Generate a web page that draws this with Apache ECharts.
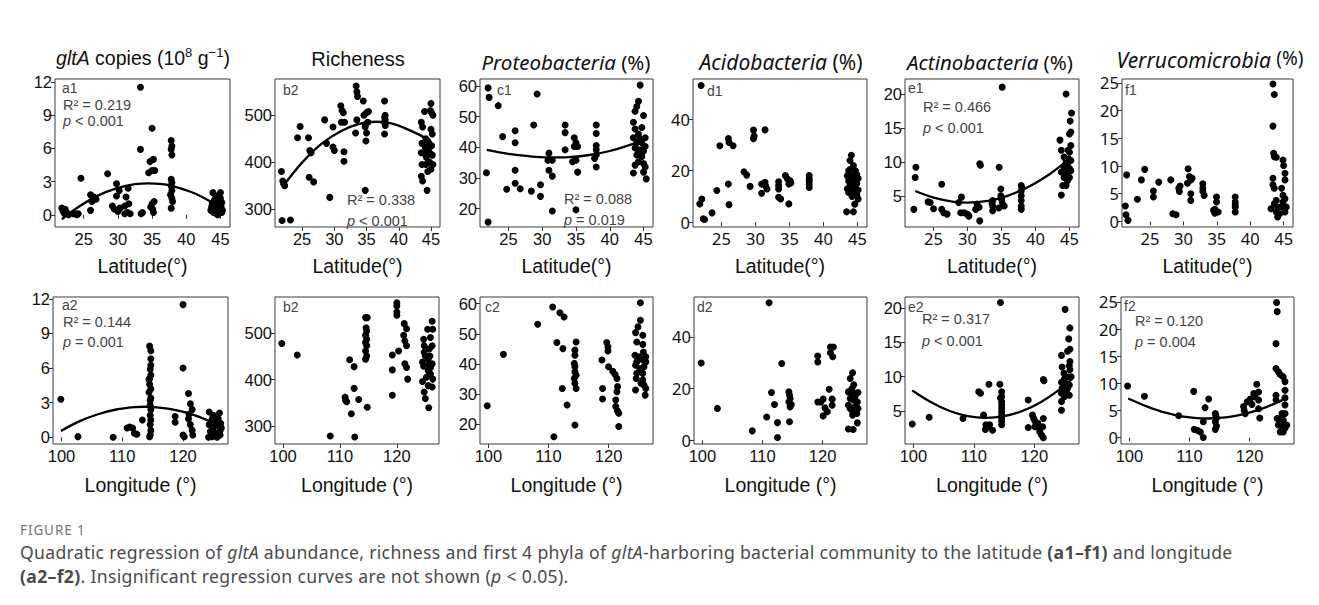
<!DOCTYPE html>
<html><head><meta charset="utf-8">
<script src="https://cdn.jsdelivr.net/npm/echarts@6/dist/echarts.min.js"></script>
<style>
html,body{margin:0;padding:0;background:#fff;}
#chart{position:absolute;left:0;top:0;width:1319px;height:605px;}
#fig{position:absolute;left:20px;top:521px;font-family:"Noto Sans";font-size:13.5px;line-height:18px;letter-spacing:0.9px;color:#777;}
#txt{position:absolute;left:20px;top:540px;width:1295px;font-family:"Noto Sans";font-size:17.6px;line-height:24px;letter-spacing:0.33px;color:#4a4a4a;white-space:nowrap;}
</style></head><body>
<div id="chart"></div>
<div id="fig">FIGURE 1</div>
<div id="txt">Quadratic regression of <i>gltA</i> abundance, richness and first 4 phyla of <i>gltA</i>-harboring bacterial community to the latitude <b>(a1–f1)</b> and longitude<br><b>(a2–f2)</b>. Insignificant regression curves are not shown (<i>p</i> &lt; 0.05).</div>
<script>
// ---------- tick labels ----------
const latTicks = [25, 30, 35, 40, 45];
const lonTicks = [100, 110, 120];
const gltaTicks = [0, 3, 6, 9, 12];
const richTicks = [300, 400, 500];
const proteoTicks = [20, 30, 40, 50, 60];
const acidoTicks = [0, 20, 40];
const actinoTicks = [5, 10, 15, 20];
const verruTicks = [0, 5, 10, 15, 20, 25];

// ---------- latitude panels (row 1) ----------
const a1Points = [[21.8,0.6],[22.0,0.3],[22.2,0.1],[22.3,0.5],[22.5,0.2],[22.8,0.0],[23.5,0.1],[23.8,0.1],[24.0,0.0],[24.2,0.1],
[24.6,3.3],[26.0,0.4],[26.2,1.2],[26.0,1.8],[26.5,1.6],[26.8,1.4],[28.5,3.7],
[29.2,0.8],[29.5,0.5],[29.8,2.8],[29.8,1.7],[30.0,0.3],[30.3,0.6],[30.2,2.2],
[31.0,0.8],[31.2,1.6],[31.0,0.1],[31.5,2.4],[31.4,0.2],[31.6,1.0],[31.8,0.1],
[33.3,11.5],[33.3,5.9],[33.4,0.1],[33.6,0.2],
[34.5,3.8],[34.7,4.8],[35.0,7.8],[35.0,4.0],[35.2,5.0],[35.4,4.0],[35.0,1.0],[35.1,0.5],[35.2,0.2],[34.8,0.7],[35.3,1.2],
[37.8,6.7],[37.9,6.2],[37.8,5.9],[37.9,5.4],[37.8,3.2],[37.9,2.9],[37.8,2.6],[37.9,2.2],[37.7,1.8],[37.9,1.5],[37.8,0.6],[38.0,1.2],
[43.6,0.4],[43.8,1.0],[43.9,2.0],[44.0,0.2],[44.2,0.6],[44.3,1.5],[44.4,0.1],[44.5,0.9],[44.6,1.2],[44.7,0.3],[44.8,1.8],[44.9,0.5],
[45.0,2.0],[45.1,0.7],[45.2,1.1],[45.3,0.4],[44.1,1.3],[44.6,0.0],[45.0,1.5],[43.7,0.7],[44.4,0.8],[45.2,0.2]];
const a1Curve = [[21.8,-0.4],[24,0.62],[27,1.71],[30,2.43],[32.5,2.76],[34.5,2.84],[36.5,2.76],[38,2.59],[41,1.99],[43.6,1.18],[45.3,0.5]];

const b1Points = [[21.8,380],[22.0,360],[22.1,355],[22.3,350],[21.9,276],[23.2,277],
[24.3,452],[24.7,476],[26.0,452],[26.2,425],[26.4,420],[26.1,368],[26.8,358],
[28.5,490],[28.8,440],[29.3,325],[29.8,475],[29.8,432],[30.0,425],
[31.0,520],[31.2,510],[31.4,505],[31.1,485],[31.6,485],[31.5,422],[31.5,402],
[33.4,562],[33.5,550],[33.6,540],[33.3,462],[33.5,490],
[34.5,530],[34.6,500],[35.0,505],[35.3,508],[34.8,480],[34.8,475],[35.2,485],[35.0,462],[34.9,445],[34.8,340],
[37.8,530],[37.9,500],[37.8,495],[37.9,490],[37.8,485],[37.9,478],[37.8,460],
[43.5,485],[43.7,475],[43.6,440],[43.5,420],[43.6,395],[43.5,370],[43.7,360],[44.0,508],[44.2,450],[44.1,432],[44.3,410],[44.2,395],
[44.4,340],[44.5,380],[44.6,425],[44.7,440],[44.8,400],[44.9,510],[45.0,525],[45.1,505],[45.0,470],[45.2,460],[45.1,435],[45.2,415],
[45.3,395],[45.0,385],[44.8,420],[44.5,445],[45.3,500],[44.3,430],[44.0,418]];
const b1Curve = [[22,348],[25,399],[28,439],[31,466],[34,482],[36.5,486],[39,482],[42,466],[44,452],[45.3,435]];

const c1Points = [[22.0,59.4],[22.15,56.3],[23.5,53.6],[21.75,31.7],[22.0,15.6],
[24.15,43.5],[26.0,45.4],[26.0,41.5],[26.0,32.5],[24.75,26.3],[26.0,28.3],[26.75,26.5],
[28.75,47.3],[28.4,25.7],[29.25,57.4],[29.75,27.8],[29.75,24.0],
[31.0,38.1],[30.85,35.8],[31.5,35.8],[31.0,32.5],[31.5,30.6],[31.5,19.2],
[33.4,47.3],[33.4,44.8],[33.4,39.2],[34.75,43.1],[35.0,41.5],[35.25,40.3],[34.75,40.3],[34.5,35.3],[35.0,35.8],[35.25,31.9],[35.0,19.6],
[38.0,47.3],[38.0,44.5],[38.0,40.6],[38.0,39.2],[38.0,37.5],[38.0,33.6],[37.75,36.4],
[44.5,60.3],[44.25,55],[44.0,53.3],[43.75,51.8],[45.0,50.4],[43.5,48.2],[43.75,46],[44.75,46.5],[43.5,43.1],[44.25,44.3],[45.25,43.1],
[44.0,41.5],[44.75,41.5],[43.75,39.8],[44.5,39.2],[45.0,38.7],[44.0,37.5],[44.25,35.3],[44.75,37.0],[43.75,34.2],[45.0,34.7],[45.25,33.6],
[45.4,29.7],[45.0,31.9],[43.5,31.6],[44.5,42.7],[44.25,38.7],[45.25,40.3]];
const c1Curve = [[21.8,39.2],[25,37.9],[28,37.1],[31,36.7],[34,36.8],[37,37.5],[40,38.8],[43,40.8],[45.3,42.7]];

const d1Points = [[22.0,53.2],[21.8,7.1],[22.1,9.0],[22.3,1.3],[22.5,1.0],[23.6,3.6],[24.3,12.3],[24.75,29.7],
[26.0,32.5],[26.1,31.0],[26.0,14.8],[26.1,6.8],[26.7,29.7],
[28.3,19.6],[28.7,18.3],[29.2,13.9],[29.7,35.8],[29.7,32.5],[29.8,33.5],
[31.4,35.9],[30.9,14.8],[31.4,15.5],[31.7,12.9],[30.9,11.2],[31.5,14.0],
[33.4,15.7],[33.4,14.2],[33.4,12.9],[33.4,9.7],[33.7,9.0],
[34.4,18.1],[34.7,16.8],[34.9,14.8],[35.1,16.1],[34.9,7.1],[35.2,15.2],
[37.9,18.1],[37.9,16.8],[37.9,14.8],[37.9,13.5],[37.9,16.0],
[44.1,26],[43.9,24],[44.4,22],[43.7,20],[44.7,20],[43.5,18],[44.2,18],[44.9,18.5],[45.1,17],[43.7,16],[44.4,15.5],[43.9,14.5],
[44.9,15],[43.5,13],[44.4,13],[45.1,12.5],[43.7,11.5],[44.4,11],[44.9,10.5],[44.2,10],[45.1,9],[44.6,7],[43.4,4],[44.4,4],
[44.2,16.5],[44.6,17.5],[43.9,20.5],[43.7,12.5],[44.5,14],[44.0,17]];

const e1Points = [[22.1,3.0],[22.4,9.2],[22.3,7.7],
[24.2,4.1],[24.5,4.0],[25.0,3.1],[26.2,6.7],[26.2,3.0],[26.5,2.5],[27.0,2.3],
[29.1,4.8],[29.0,2.5],[29.5,2.5],[29.95,2.3],[30.2,2.0],[28.7,4.0],
[31.2,3.0],[31.4,3.8],[31.7,3.3],[31.8,1.3],[31.8,9.7],[31.9,9.5],
[33.7,4.3],[33.7,3.5],[33.7,2.8],[33.6,3.9],
[34.65,9.2],[34.9,6.0],[34.9,5.0],[35.1,4.0],[35.4,3.5],[34.6,3.2],[35.1,21.0],[35.0,4.5],
[37.9,6.5],[37.9,5.7],[37.9,5.0],[37.9,4.3],[37.9,3.5],[37.9,3.0],[38.0,6.2],
[44.5,20.0],[45.3,17.2],[45.1,16.0],[45.2,14.4],[45.0,14.1],[43.6,13.2],[45.2,12.4],[45.0,11.4],[43.8,11.7],[44.8,10.4],[44.5,10.2],
[44.7,9.6],[44.2,9.2],[45.0,9.0],[43.8,8.5],[44.7,8.2],[45.2,8.7],[44.2,7.7],[44.8,7.5],[44.5,6.5],[43.8,5.1],[44.2,10.7],[44.8,11.7],
[45.2,10.2],[44.5,9.0],[45.0,7.7],[44.7,7.2],[44.0,6.5],[44.3,8.0]];
const e1Curve = [[22.3,5.7],[25,4.72],[28,4.11],[30,4.0],[33,4.26],[36,5.03],[39,6.32],[42,8.13],[44.3,9.87],[45.3,10.72]];

const f1Points = [[21.3,2.8],[21.4,1.2],[21.7,0.2],[21.5,8.4],[23.1,4.0],[23.7,7.5],[24.2,9.4],[25.5,5.5],[25.5,4.4],[26.3,7.1],
[28.1,7.5],[28.4,1.4],[28.9,1.2],[29.3,6.0],[29.4,5.4],[29.5,6.4],
[30.7,9.5],[30.9,8.1],[31.1,7.5],[30.6,6.9],[31.1,5.0],[31.1,3.8],[31.3,7.8],
[32.9,6.8],[32.9,6.0],[32.9,5.4],[33.1,4.7],
[34.7,2.2],[34.7,1.5],[34.95,4.4],[34.95,3.5],[35.2,1.7],[34.5,2.0],
[37.75,4.4],[37.75,3.5],[37.75,2.6],[37.75,1.7],[37.75,3.0],
[43.4,24.8],[43.6,22.9],[43.4,17.2],[43.5,12.3],[43.6,11.7],[43.9,11.6],[44.9,11.1],[45.0,10.1],[45.2,8.7],[45.2,7.5],[43.4,7.8],
[43.4,6.6],[43.6,6.0],[44.7,6.0],[44.9,4.7],[43.9,3.8],[43.6,3.2],[44.1,2.6],[44.6,2.6],[43.9,1.7],[44.4,1.4],[45.2,1.7],[45.4,2.6],
[44.1,0.8],[43.1,2.3],[44.9,3.5],[45.2,4.1]];

// ---------- longitude panels (row 2) ----------
const a2Points = [[99.9,3.3],[102.7,0.06],[108.5,0.0],
[110.8,0.8],[111.2,0.9],[111.7,0.8],[112.0,0.35],[112.4,0.26],[113.3,1.5],
[114.5,7.9],[114.7,7.5],[114.7,6.8],[114.7,6.25],[114.6,5.9],[114.7,5.4],[114.5,5.1],[114.4,5.0],[114.7,4.2],[114.4,3.9],[114.7,3.4],
[114.6,2.8],[114.7,2.4],[114.6,1.9],[114.7,1.5],[114.6,1.1],[114.7,0.6],[114.6,0.2],[114.5,0.05],[114.5,4.6],[114.6,3.2],
[118.7,1.8],[118.7,1.3],[120.0,11.5],[120.0,6.0],[120.0,0.2],[120.2,0.05],
[120.9,3.8],[121.2,2.9],[121.5,2.4],[120.9,1.6],[121.2,1.1],[121.5,0.6],[121.6,0.2],[121.0,2.0],
[124.3,2.2],[126.0,2.1],[124.8,1.6],[125.6,1.5],[124.3,1.1],[125.1,0.9],[125.8,1.1],[126.1,0.6],[124.5,0.5],[125.3,0.35],
[124.8,0.06],[125.6,0.0],[126.1,0.2],[124.2,0.0],[125.8,1.6],[126.2,1.2],[125.0,1.9],[126.3,0.8]];
const a2Curve = [[99.9,0.55],[103,1.4],[106,2.0],[109,2.41],[112,2.62],[113.7,2.65],[115,2.63],[118,2.45],[121,2.07],[124.9,1.29],[126.2,0.95]];

const b2Points = [[99.8,478],[102.5,453],[108.3,278],
[111.7,443],[110.9,362],[111.0,355],[111.2,352],[112.0,326],[112.5,428],[112.5,381],[113.3,357],[112.6,276],
[114.5,534],[114.8,534],[114.6,512],[114.7,505],[114.5,496],[114.7,487],[114.5,480],[114.7,473],[114.5,462],[114.7,451],[114.5,444],[114.8,340],
[120.0,566],[120.0,559],[120.0,546],[120.0,539],[119.2,453],[119.2,421],[119.2,366],[120.3,462],
[121.3,521],[121.7,510],[121.2,496],[121.4,484],[121.7,473],[121.4,434],[121.7,426],[121.9,401],
[124.7,487],[124.8,473],[124.5,438],[124.7,429],[124.5,396],[124.8,373],[125.0,359],[125.6,339],[126.2,526],[126.3,509],[125.9,491],
[126.2,473],[125.8,451],[126.2,434],[125.9,412],[126.3,401],[126.2,384],[125.5,444],[125.7,434],[125.5,419],[125.2,405],[125.5,387],
[124.8,459],[125.7,466],[125.9,426],[125.4,509],[125.0,451]];

const c2Points = [[99.8,26.2],[102.5,43.2],[108.2,53.2],[110.7,58.9],[111.9,57.0],[112.6,55.6],[111.4,47.1],[112.4,45.1],[112.3,31.9],[113.1,26.4],[110.9,15.9],
[114.6,47.3],[114.4,44.6],[114.4,42.9],[114.3,40.2],[114.4,39.1],[114.4,37.4],[114.6,36.3],[114.3,35.2],[114.4,33.6],[114.6,31.9],[114.4,19.8],
[118.9,41.3],[119.0,31.9],[119.0,28.4],[119.7,47.1],[119.9,45.7],[119.9,44.3],[120.0,39.1],[120.7,37.6],[121.4,35.2],[121.5,32.5],
[121.4,30.8],[121.2,28.1],[121.2,25.9],[121.5,24.4],[121.7,23.7],[121.7,19.3],[121.1,36.5],
[125.3,60.3],[125.3,54.5],[124.9,52.3],[124.5,50.4],[124.7,47.3],[125.7,49.5],[125.7,46.5],[124.4,42.9],[125.1,42.4],[125.8,44.0],
[126.2,42.4],[124.7,40.7],[125.7,41.3],[126.2,40.7],[124.5,39.6],[125.2,38.5],[125.9,39.1],[124.7,36.9],[125.7,36.9],[124.6,35.2],
[125.7,34.7],[125.9,33.0],[126.2,31.9],[124.5,31.4],[126.1,29.7],[125.4,33.6]];

const d2Points = [[99.8,29.9],[102.5,12.3],[108.3,3.6],[110.7,9.0],[111.1,53.3],[111.5,18.5],[112.0,13.8],[112.5,6.8],[112.5,1.0],[113.2,29.7],
[114.4,18.7],[114.5,17.4],[114.6,16.1],[114.4,14.8],[114.8,13.8],[114.6,12.9],[114.5,7.1],
[119.2,32.6],[119.2,30.3],[119.2,14.8],[119.7,14.8],[120.1,15.9],[120.1,9.4],[120.4,12.5],[120.8,11.0],[121.1,19.7],
[121.3,36.1],[121.8,36.1],[121.3,33.9],[121.7,32.3],[121.6,15.9],[121.6,13.5],
[125.0,26.1],[124.6,23.9],[125.2,21.5],[124.9,20.0],[124.3,18.7],[125.5,18.1],[125.9,18.5],[124.6,16.1],[125.2,15.5],[125.8,14.8],
[124.3,13.5],[125.4,12.9],[125.9,12.3],[124.9,11.6],[125.7,10.3],[125.0,9.7],[125.8,6.7],[124.3,4.3],[125.1,4.1],[124.6,12.3],
[125.4,16.8],[124.9,18.0]];

const e2Points = [[99.8,3.1],[102.6,4.1],[108.2,3.9],[110.8,7.8],[111.1,7.6],[112.5,8.9],[114.3,8.9],
[111.6,4.4],[112.0,3.0],[112.2,2.6],[112.6,3.0],[113.1,2.2],[111.9,2.3],
[114.4,20.8],[114.6,7.8],[114.6,7.1],[114.6,6.4],[114.6,5.9],[114.6,5.4],[114.6,4.9],[114.6,4.4],[114.6,3.9],[114.6,3.5],[114.6,3.0],[114.4,6.9],
[119.0,6.6],[119.0,2.6],[119.7,4.4],[119.9,3.9],[120.1,3.5],[120.1,2.7],[120.6,3.2],[120.9,2.5],[120.9,2.0],[121.2,1.5],[121.5,1.1],
[121.5,3.9],[121.4,2.7],[121.5,9.6],[121.6,9.4],
[125.1,19.8],[125.9,17.1],[125.7,15.5],[125.9,14.0],[125.5,13.7],[124.5,13.1],[125.9,12.2],[125.8,11.6],[124.6,11.4],[125.9,11.0],
[125.5,10.0],[125.0,9.7],[124.5,9.2],[125.3,9.0],[125.8,8.8],[124.6,8.3],[125.3,7.8],[124.5,7.6],[125.8,7.3],[125.0,7.1],[124.5,6.4],
[124.5,5.1],[125.5,8.3],[124.9,10.5],[126.1,10.0],[125.3,8.5]];
const e2Curve = [[99.8,8.0],[103,6.25],[106,5.0],[109,4.25],[112,4.0],[115,4.25],[118,5.0],[121,6.25],[124,8.0],[126.3,9.7]];

const f2Points = [[99.7,9.5],[102.5,7.6],[108.2,4.0],[110.7,8.5],[110.8,1.5],[111.3,1.35],[111.8,1.0],[112.3,0.0],[112.3,2.9],[112.6,5.5],[113.2,7.1],
[114.3,4.4],[114.5,3.6],[114.3,2.9],[114.5,2.1],[114.3,1.5],[114.4,4.0],
[119.0,5.7],[119.1,5.0],[119.3,4.4],[119.6,6.6],[120.1,7.1],[120.4,6.1],[120.7,8.1],[121.2,9.8],[121.5,8.4],[121.5,6.9],[121.5,5.3],[121.7,3.6],[120.9,7.5],
[124.5,24.9],[124.6,23.2],[124.4,17.3],[124.4,12.7],[124.8,12.1],[125.1,11.6],[125.6,11.2],[125.9,10.3],[125.9,8.7],[125.9,7.3],[124.4,7.8],
[124.4,6.9],[125.9,6.0],[125.9,4.4],[125.1,3.5],[125.6,3.2],[124.8,2.3],[125.4,2.0],[125.9,1.7],[125.1,1.0],[125.6,1.0],[126.2,2.3],[125.4,4.4],[124.6,3.5]];
const f2Curve = [[99.8,7.2],[103,5.7],[106,4.57],[109,3.85],[113,3.5],[116,3.7],[119,4.3],[122,5.27],[124.5,6.4],[126.2,7.3]];

// ---------- panel descriptions ----------
const ARIAL = '"Liberation Sans", Arial, sans-serif';
const SEGOE = '"Noto Sans", "Open Sans", sans-serif';
const panels = [
 {pts:a1Points, curve:a1Curve, x:latTicks, xr:[20.8,46.4], y:gltaTicks,  yr:[-1.1,12.25], tag:'a1', r2:'0.219', p:'< 0.001', xf:ARIAL, yf:ARIAL},
 {pts:b1Points, curve:b1Curve, x:latTicks, xr:[20.8,46.4], y:richTicks,  yr:[262,577],    tag:'b2', r2:'0.338', p:'< 0.001', xf:ARIAL, yf:ARIAL},
 {pts:c1Points, curve:c1Curve, x:latTicks, xr:[20.8,46.4], y:proteoTicks,yr:[14,62.3],    tag:'c1', r2:'0.088', p:'= 0.019', xf:ARIAL, yf:ARIAL},
 {pts:d1Points, curve:null,    x:latTicks, xr:[20.8,46.4], y:acidoTicks, yr:[-1.9,55.7],  tag:'d1', xf:SEGOE, yf:SEGOE},
 {pts:e1Points, curve:e1Curve, x:latTicks, xr:[20.8,46.4], y:actinoTicks,yr:[0.4,22.2],   tag:'e1', r2:'0.466', p:'< 0.001', xf:SEGOE, yf:ARIAL},
 {pts:f1Points, curve:null,    x:latTicks, xr:[20.8,46.4], y:verruTicks, yr:[-1.0,25.7],  tag:'f1', xf:SEGOE, yf:SEGOE},
 {pts:a2Points, curve:a2Curve, x:lonTicks, xr:[98.6,127.4], y:gltaTicks,  yr:[-0.58,12.16], tag:'a2', r2:'0.144', p:'= 0.001', xf:ARIAL, yf:ARIAL},
 {pts:b2Points, curve:null,    x:lonTicks, xr:[98.6,127.4], y:richTicks,  yr:[260.7,578.6], tag:'b2', xf:ARIAL, yf:ARIAL},
 {pts:c2Points, curve:null,    x:lonTicks, xr:[98.6,127.4], y:proteoTicks,yr:[13.5,62.2],   tag:'c2', xf:ARIAL, yf:ARIAL},
 {pts:d2Points, curve:null,    x:lonTicks, xr:[98.6,127.4], y:acidoTicks, yr:[-1.5,55.5],   tag:'d2', xf:ARIAL, yf:SEGOE},
 {pts:e2Points, curve:e2Curve, x:lonTicks, xr:[98.6,127.4], y:actinoTicks,yr:[0.2,21.6],    tag:'e2', r2:'0.317', p:'< 0.001', xf:ARIAL, yf:ARIAL},
 {pts:f2Points, curve:f2Curve, x:lonTicks, xr:[98.6,127.4], y:verruTicks, yr:[-1.2,25.9],   tag:'f2', r2:'0.120', p:'= 0.004', xf:ARIAL, yf:SEGOE}
];
// plot boxes (pixels) and annotation anchors
const boxes = [
 {l:55,t:79,w:175,h:148},{l:275,t:79,w:165,h:148},{l:480,t:79,w:173,h:148},
 {l:693,t:79,w:174,h:148},{l:905,t:79,w:174,h:148},{l:1122,t:79,w:171,h:148},
 {l:53,t:297,w:175,h:147},{l:275,t:297,w:164,h:147},{l:480,t:297,w:173,h:147},
 {l:694,t:297,w:173,h:147},{l:905,t:297,w:174,h:147},{l:1121,t:297,w:173,h:147}
];
const notes = [
 {tag:[62,88],  st:[63,105,121]},
 {tag:[283,90], st:[347,200,221]},
 {tag:[497,90], st:[564,199,220]},
 {tag:[707,91]},
 {tag:[908,88], st:[923,107,128]},
 {tag:[1125,90]},
 {tag:[62,305], st:[63,322,342]},
 {tag:[283,307]},
 {tag:[485,307]},
 {tag:[697,307]},
 {tag:[908,307], st:[922,319,341]},
 {tag:[1124,306], st:[1135,321,342]}
];
const titleDefs = [
 {x:143, y:58, text:'{i|gltA} copies (10{s|8} g{s|−1})', f:ARIAL, fs:19.5},
 {x:358, y:59, text:'Richeness', f:ARIAL, fs:20},
 {x:566, y:62, text:'{i|Proteobacteria} (%)', f:SEGOE, fs:20.5},
 {x:781, y:62, text:'{i|Acidobacteria} (%)', f:SEGOE, fs:21},
 {x:990, y:62, text:'{i|Actinobacteria} (%)', f:SEGOE, fs:20.5},
 {x:1210, y:60, text:'{i|Verrucomicrobia} {s2|(%)}', f:SEGOE, fs:21}
];

const grid = [], xAxis = [], yAxis = [], series = [], graphic = [];
panels.forEach((p, i) => {
  const b = boxes[i];
  grid.push({left:b.l, top:b.t, width:b.w, height:b.h, show:true, borderColor:'#3a3a3a', borderWidth:1, containLabel:false});
  xAxis.push({gridIndex:i, type:'value', min:p.xr[0], max:p.xr[1],
    axisLine:{show:false}, splitLine:{show:false},
    axisTick:{show:true, length:4, lineStyle:{color:'#333', width:1}, customValues:p.x},
    axisLabel:{customValues:p.x, fontSize:16.5, color:'#111', margin:3, fontFamily:p.xf}});
  yAxis.push({gridIndex:i, type:'value', min:p.yr[0], max:p.yr[1],
    axisLine:{show:false}, splitLine:{show:false},
    axisTick:{show:true, length:4, lineStyle:{color:'#333', width:1}, customValues:p.y},
    axisLabel:{customValues:p.y, fontSize:16.5, color:'#111', margin:3, fontFamily:p.yf}});
  series.push({type:'scatter', xAxisIndex:i, yAxisIndex:i, data:p.pts, symbolSize:7,
    itemStyle:{color:'#000', opacity:1}, silent:true, z:3});
  if (p.curve) series.push({type:'line', xAxisIndex:i, yAxisIndex:i, data:p.curve, smooth:0.35,
    showSymbol:false, lineStyle:{color:'#000', width:2.3}, silent:true, z:2});
  const n = notes[i];
  graphic.push({type:'text', x:n.tag[0], y:n.tag[1], style:{text:p.tag, fill:'#444',
    font:'14px ' + ARIAL, verticalAlign:'middle', align:'left'}});
  if (n.st) {
    graphic.push({type:'text', x:n.st[0], y:n.st[1], style:{text:'R² = ' + p.r2, fill:'#444',
      font:'14.5px ' + ARIAL, verticalAlign:'middle', align:'left'}});
    graphic.push({type:'text', x:n.st[0], y:n.st[2], style:{text:'{i|p} ' + p.p, fill:'#444',
      font:'14.5px ' + ARIAL, verticalAlign:'middle', align:'left',
      rich:{i:{fontStyle:'italic', fontSize:14.5, fontFamily:ARIAL, fill:'#444'}}}});
  }
  const cx = b.l + b.w / 2;
  graphic.push({type:'text', x:cx, y: i < 6 ? 266 : 485, style:{text: i < 6 ? 'Latitude(°)' : 'Longitude (°)',
    fill:'#111', font:'19.5px ' + ARIAL, align:'center', verticalAlign:'middle'}});
});
titleDefs.forEach(t => {
  graphic.push({type:'text', x:t.x, y:t.y, style:{text:t.text, fill:'#111',
    fontSize:t.fs, fontFamily:t.f, align:'center', verticalAlign:'middle',
    rich:{
      i:{fontStyle:'italic', fontSize:t.fs, fontFamily:t.f, fill:'#111', lineHeight:24},
      s:{fontSize:13, fontFamily:t.f, fill:'#111', verticalAlign:'top', lineHeight:13},
      s2:{fontSize:t.fs - 2, fontFamily:t.f, fill:'#111', verticalAlign:'top', lineHeight:20}
    }}});
});

const chart = echarts.init(document.getElementById('chart'), null, {renderer:'svg', width:1319, height:605});
chart.setOption({animation:false, backgroundColor:'#fff', grid, xAxis, yAxis, series, graphic});
</script>
</body></html>
